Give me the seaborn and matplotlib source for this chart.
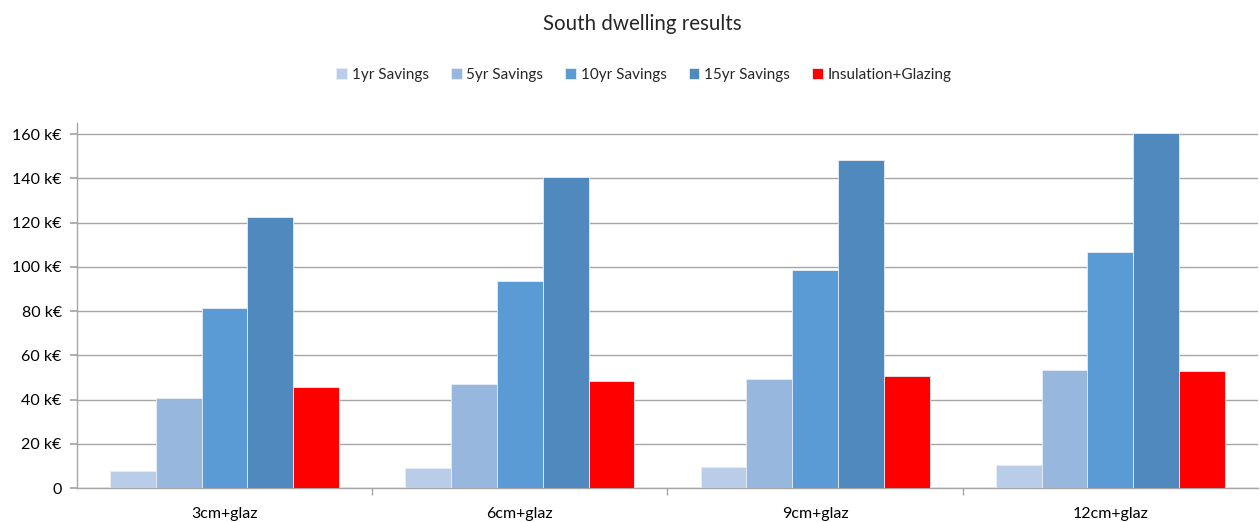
import matplotlib
matplotlib.use("Agg")
import matplotlib.pyplot as plt
import seaborn as sns
import pandas as pd
from matplotlib.ticker import FixedLocator, FuncFormatter

categories = ["3cm+glaz", "6cm+glaz", "9cm+glaz", "12cm+glaz"]
series_names = ["1yr Savings", "5yr Savings", "10yr Savings", "15yr Savings", "Insulation+Glazing"]
sav_1yr = [7.8, 9.2, 9.6, 10.4]
sav_5yr = [40.7, 46.9, 49.4, 53.3]
sav_10yr = [81.4, 93.7, 98.7, 106.9]
sav_15yr = [122.3, 140.8, 148.3, 160.6]
ins_glaz = [45.8, 48.2, 50.5, 52.7]
y_ticks = [0, 20, 40, 60, 80, 100, 120, 140, 160]
colors = ["#B9CDE8", "#97B7DE", "#5B9BD5", "#4F89BD", "#FF0000"]

rows = []
for name, vals in zip(series_names, [sav_1yr, sav_5yr, sav_10yr, sav_15yr, ins_glaz]):
    for c, v in zip(categories, vals):
        rows.append({"cat": c, "series": name, "value": v})
df = pd.DataFrame(rows)

sns.set_theme(style="white")
plt.rcParams["font.family"] = ["Lato", "DejaVu Sans"]

fig = plt.figure(figsize=(12.6, 5.22), dpi=100)
ax = fig.add_axes([0.0611, 0.0651, 0.9373, 0.6993])

sns.barplot(data=df, x="cat", y="value", hue="series", order=categories,
            hue_order=series_names, palette=colors, width=0.775, gap=0,
            linewidth=0.6, edgecolor="#e8eef6", saturation=1, ax=ax,
            errorbar=None, zorder=3)

ax.set_ylim(0, 165)
ax.set_xlim(-0.5, 3.5)
ax.yaxis.set_major_locator(FixedLocator(y_ticks))
ax.yaxis.set_major_formatter(FuncFormatter(lambda v, p: "0" if v == 0 else f"{int(v)} k€"))
ax.grid(axis="y", color="#A6A6A6", linewidth=1.0, zorder=0)
ax.set_axisbelow(True)
for s in ["top", "right"]:
    ax.spines[s].set_visible(False)
for s in ["left", "bottom"]:
    ax.spines[s].set_color("#A6A6A6")
    ax.spines[s].set_linewidth(1.0)
ax.set_xlabel("")
ax.set_ylabel("")
ax.tick_params(axis="y", which="major", left=True, length=5, color="#A6A6A6",
               labelsize=11.5, labelcolor="#000000", pad=6)
ax.tick_params(axis="x", which="major", bottom=False, labelsize=11.5,
               labelcolor="#000000", pad=8)
ax.set_xticks([0.5, 1.5, 2.5], minor=True)
ax.tick_params(axis="x", which="minor", bottom=True, length=5, color="#A6A6A6")

handles, labels = ax.get_legend_handles_labels()
ax.legend(handles, labels, loc="center", bbox_to_anchor=(0.48, 1.0 + (75 - 123) / -365.0),
          ncol=5, frameon=False, fontsize=11, handlelength=0.7, handleheight=0.7,
          handletextpad=0.3, columnspacing=1.45)

fig.text(0.5095, 1 - 24 / 522, "South dwelling results", ha="center", va="center", fontsize=14.8)

fig.savefig("out.png", dpi=100, facecolor="white")
